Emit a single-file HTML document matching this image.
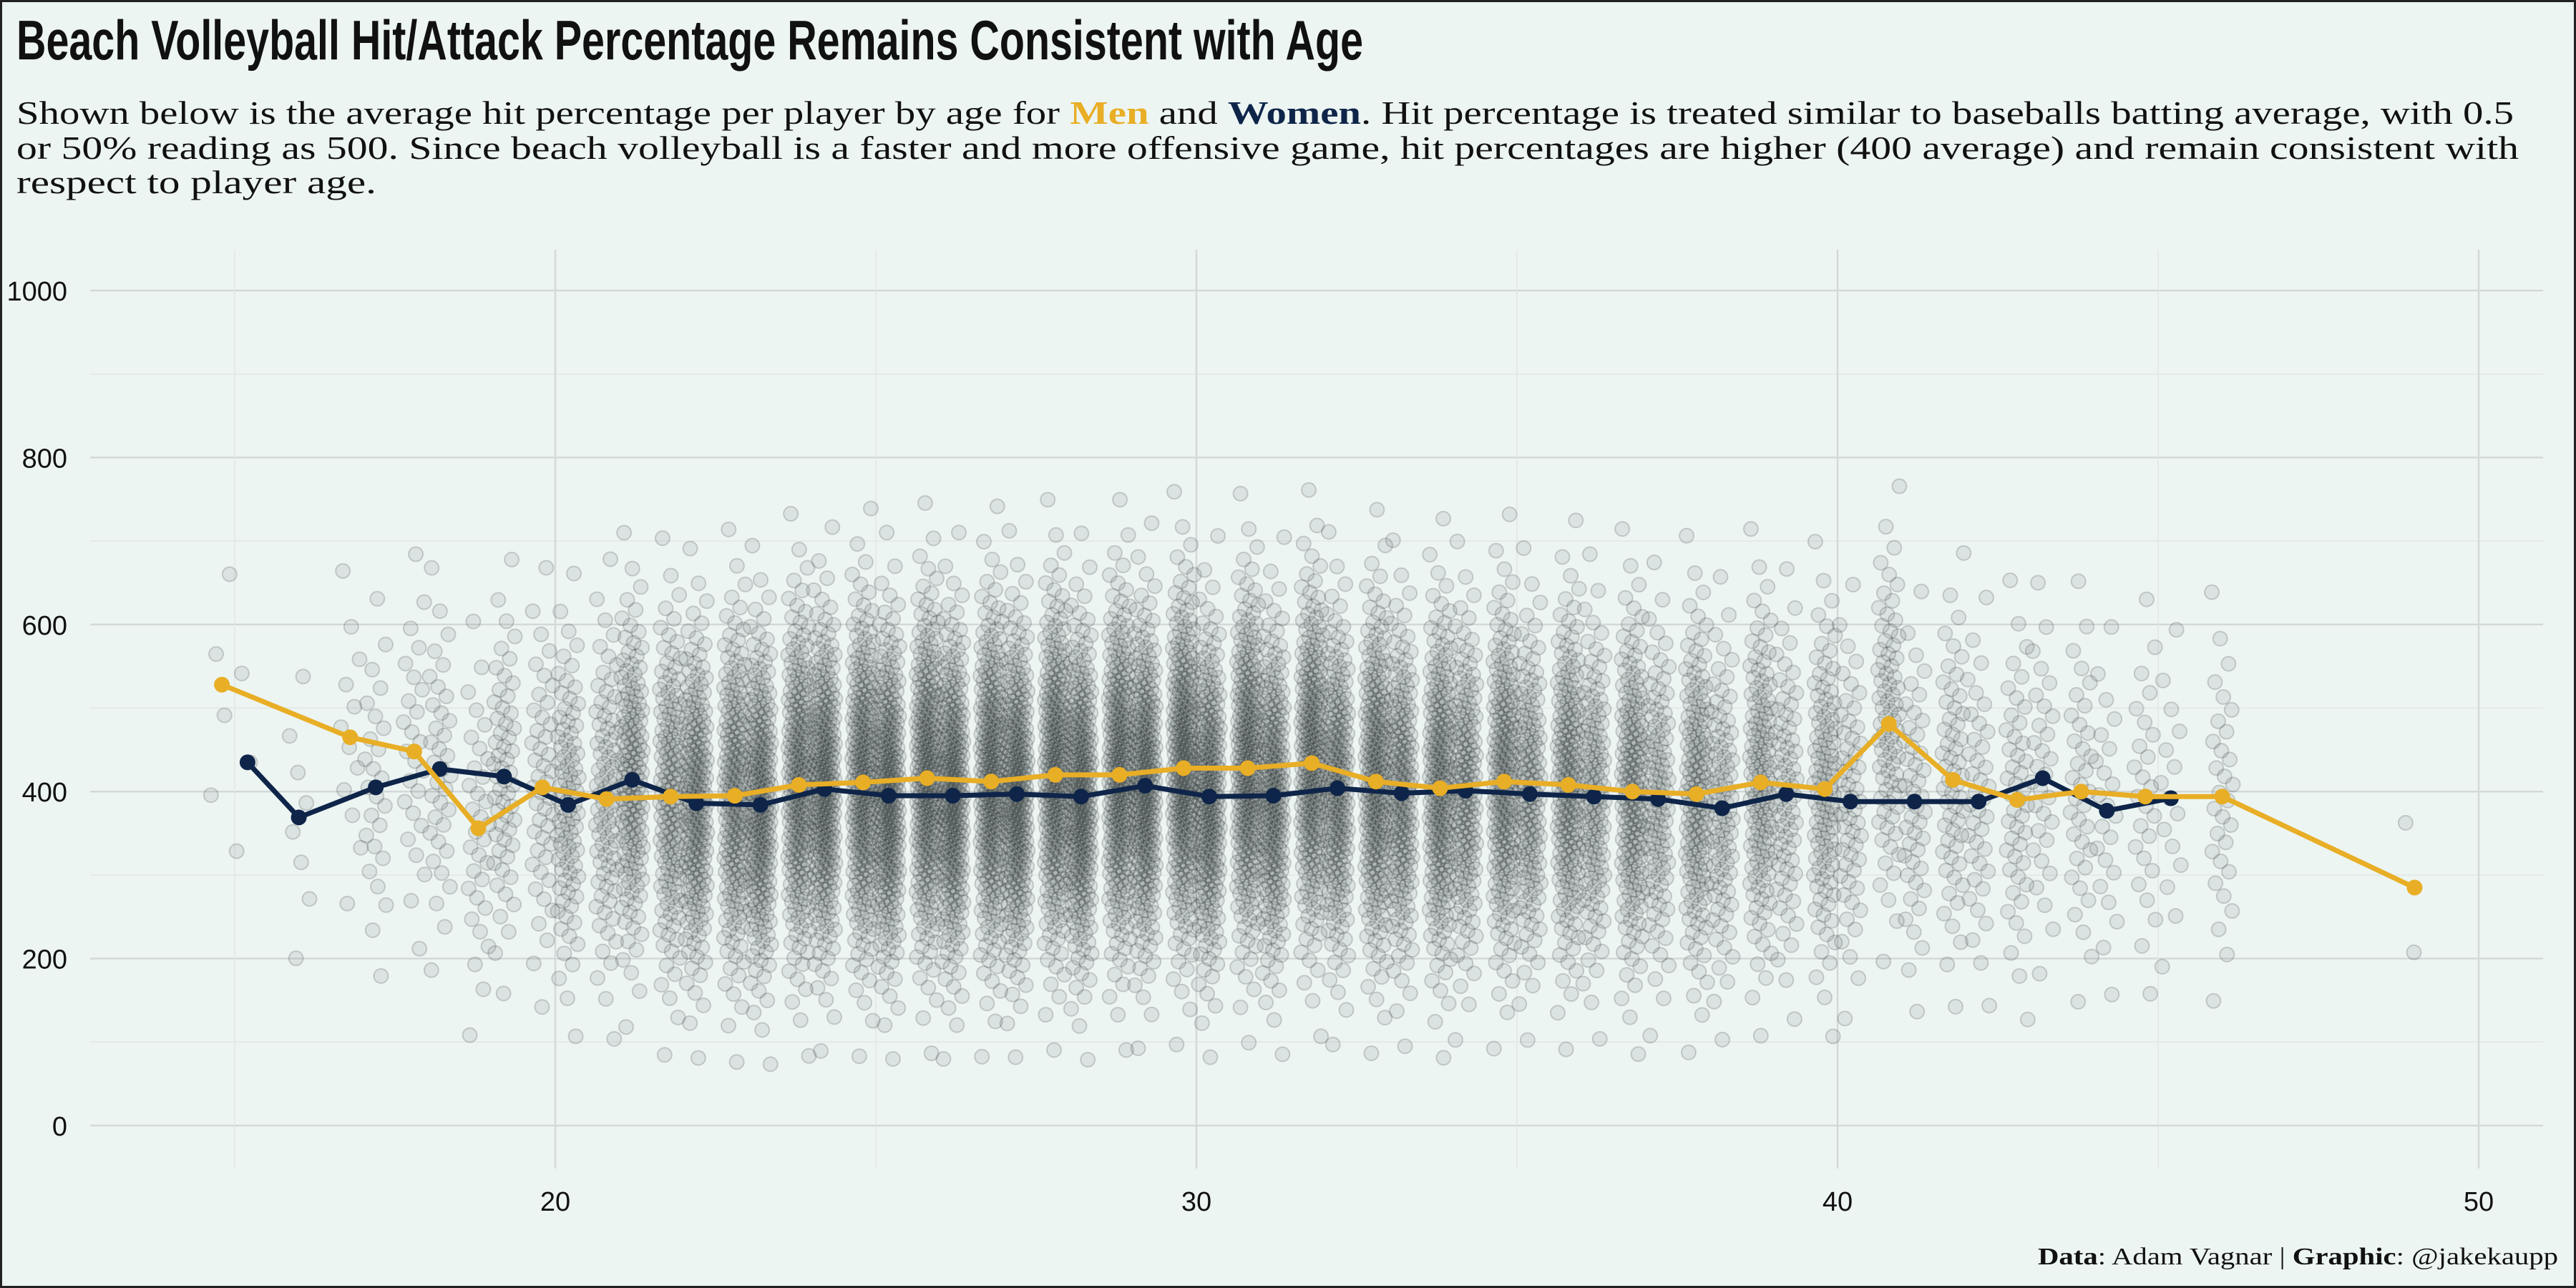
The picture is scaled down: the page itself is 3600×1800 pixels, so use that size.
<!DOCTYPE html>
<html><head><meta charset="utf-8">
<style>
html,body{margin:0;padding:0;background:#EDF5F3;}
svg{display:block;}
</style></head>
<body>
<svg id="chart" width="3600" height="1800" viewBox="0 0 3600 1800" xmlns="http://www.w3.org/2000/svg">
  <rect x="0" y="0" width="3600" height="1800" fill="#EDF5F3"/>
  <rect x="1.5" y="1.5" width="3597" height="1797" fill="none" stroke="#222" stroke-width="3"/>
  <text x="23" y="83" font-family="'Liberation Sans Narrow','Liberation Sans',sans-serif" font-weight="bold" font-size="78" fill="#111" textLength="1882" lengthAdjust="spacingAndGlyphs">Beach Volleyball Hit/Attack Percentage Remains Consistent with Age</text>
  <g font-family="'Liberation Serif',serif" font-size="46" fill="#111">
    <text x="23" y="173" textLength="3490" lengthAdjust="spacingAndGlyphs">Shown below is the average hit percentage per player by age for <tspan font-weight="bold" fill="#E8AE26">Men</tspan> and <tspan font-weight="bold" fill="#0E2549">Women</tspan>. Hit percentage is treated similar to baseballs batting average, with 0.5</text>
    <text x="23" y="222" textLength="3497" lengthAdjust="spacingAndGlyphs">or 50% reading as 500. Since beach volleyball is a faster and more offensive game, hit percentages are higher (400 average) and remain consistent with</text>
    <text x="23" y="270" textLength="503" lengthAdjust="spacingAndGlyphs">respect to player age.</text>
  </g>
  <g id="grid"></g>
  <g id="yticks"></g>
  <g id="xticks"></g>
  <g id="scatter"></g>
  <g id="lines"></g>
  <text x="3575" y="1767" text-anchor="end" font-family="'Liberation Serif',serif" font-size="34" fill="#111" textLength="727" lengthAdjust="spacingAndGlyphs"><tspan font-weight="bold">Data</tspan>: Adam Vagnar | <tspan font-weight="bold">Graphic</tspan>: @jakekaupp</text>
</svg>
<script>
// ---- data ----
const menAges   = [15,17,18,19,20,21,22,23,24,25,26,27,28,29,30,31,32,33,34,35,36,37,38,39,40,41,42,43,44,45,46,49];
const menHit    = [528,465,448,356,405,391,394,395,408,411,416,412,420,420,428,428,434,412,404,412,408,400,397,411,403,481,414,390,400,394,394,285];
const womenAges = [15,16,17,18,19,20,21,22,23,24,25,26,27,28,29,30,31,32,33,34,35,36,37,38,39,40,41,42,43,44,45];
const womenHit  = [435,369,405,427,418,384,414,386,384,403,395,395,397,394,407,394,395,404,398,401,397,394,391,380,397,388,388,388,416,377,392];
// approximate number of players per age (scatter density)
const menCounts   = [4,12,25,32,45,80,140,180,210,230,240,240,240,240,250,235,225,215,200,185,170,160,140,120,100,75,55,45,35,25,30,2];
const womenCounts = [3,8,25,35,55,85,140,180,210,230,240,240,240,240,235,220,205,190,170,150,135,120,100,85,70,55,45,38,30,22,15];
const spreadMen   = 115;
const spreadWomen = 110;
const yTicks = [0,200,400,600,800,1000];
const xTicks = [20,30,40,50];

// ---- scales ----
const X0 = 776, XPER = 89.6;
const Y0 = 1573, YPER = 1.167;
const xs = a => X0 + (a - 20) * XPER;
const ys = v => Y0 - v * YPER;
const NS = 'http://www.w3.org/2000/svg';
function mk(tag, attrs, parent){ const e=document.createElementNS(NS,tag); for(const k in attrs) e.setAttribute(k,attrs[k]); parent.appendChild(e); return e; }

// ---- grid ----
const grid = document.getElementById('grid');
const PL = 126, PR = 3554, PT = 349, PB = 1633;
for (let v = 0; v <= 1000; v += 100) {
  const l = mk('line',{x1:PL,x2:PR,y1:ys(v),y2:ys(v),stroke: v%200===0?'#d3d9d8':'#e0e6e5','stroke-width': v%200===0?2.5:1.5},grid);
  
  
}
for (let a = 15; a <= 50; a += 5) {
  const l = mk('line',{x1:xs(a),x2:xs(a),y1:PT,y2:PB,stroke: a%10===0?'#d3d9d8':'#e0e6e5','stroke-width': a%10===0?2.5:1.5},grid);
  
  
}
const yt = document.getElementById('yticks');
yTicks.forEach(v=>{
  const t = mk('text',{x:94,y:ys(v)+14,'text-anchor':'end','font-family':"'Liberation Sans Narrow','Liberation Sans',sans-serif",'font-size':38,fill:'#111'},yt);
  
  
  t.textContent = v;
});
const xt = document.getElementById('xticks');
xTicks.forEach(v=>{
  const t = mk('text',{x:xs(v),y:1692,'text-anchor':'middle','font-family':"'Liberation Sans Narrow','Liberation Sans',sans-serif",'font-size':38,fill:'#111'},xt);
  
  
  t.textContent = v;
});

// ---- dodge offsets ----
function offset(age, isMen){
  const both = menAges.includes(age) && womenAges.includes(age);
  if (!both) return 0;
  return isMen ? -0.2 : 0.2;
}
function invN(p){
  const a=[-39.6968302866538,220.946098424521,-275.928510446969,138.357751867269,-30.6647980661472,2.50662827745924];
  const b=[-54.4760987982241,161.585836858041,-155.698979859887,66.8013118877197,-13.2806815528857];
  const c=[-0.00778489400243029,-0.322396458041136,-2.40075827716184,-2.54973253934373,4.37466414146497,2.93816398269878];
  const d=[0.00778469570904146,0.32246712907004,2.445134137143,3.75440866190742];
  let q,r;
  if(p<0.02425){q=Math.sqrt(-2*Math.log(p));return (((((c[0]*q+c[1])*q+c[2])*q+c[3])*q+c[4])*q+c[5])/((((d[0]*q+d[1])*q+d[2])*q+d[3])*q+1);}
  if(p>1-0.02425){q=Math.sqrt(-2*Math.log(1-p));return -(((((c[0]*q+c[1])*q+c[2])*q+c[3])*q+c[4])*q+c[5])/((((d[0]*q+d[1])*q+d[2])*q+d[3])*q+1);}
  q=p-0.5;r=q*q;return (((((a[0]*r+a[1])*r+a[2])*r+a[3])*r+a[4])*r+a[5])*q/(((((b[0]*r+b[1])*r+b[2])*r+b[3])*r+b[4])*r+1);
}

// ---- scatter ----
const sc = document.getElementById('scatter');
function scatterGroup(ages, means, counts, spread, isMen){
  ages.forEach((age,i)=>{
    const n = counts[i], cx = age + offset(age,isMen);
    for(let k=0;k<n;k++){
      const p = (k+0.5)/n;
      const v = Math.max(0, Math.min(930, means[i] + spread*invN(p)));
      const j = ((k*0.6180339887 + i*0.37) % 1) - 0.5;
      const c = mk('circle',{cx:xs(cx + j*0.34), cy:ys(v), r:10, fill:'rgba(45,50,50,0.09)', stroke:'rgba(45,50,50,0.2)','stroke-width':2},sc);
      
      
    }
  });
}
scatterGroup(menAges, menHit, menCounts, spreadMen, true);
scatterGroup(womenAges, womenHit, womenCounts, spreadWomen, false);

// ---- lines ----
const lg = document.getElementById('lines');
function series(ages, vals, color, name, isMen){
  const pts = ages.map((a,i)=>xs(a+offset(a,isMen))+','+ys(vals[i])).join(' ');
  const pl = mk('polyline',{points:pts,fill:'none',stroke:color,'stroke-width':7,'stroke-linejoin':'round'},lg);
  
  
  ages.forEach((a,i)=>{
    const c = mk('circle',{cx:xs(a+offset(a,isMen)),cy:ys(vals[i]),r:11,fill:color},lg);
    
    
  });
}
series(womenAges, womenHit, '#0E2549', 'women', false);
series(menAges, menHit, '#E8AE26', 'men', true);
</script>
</body></html>
